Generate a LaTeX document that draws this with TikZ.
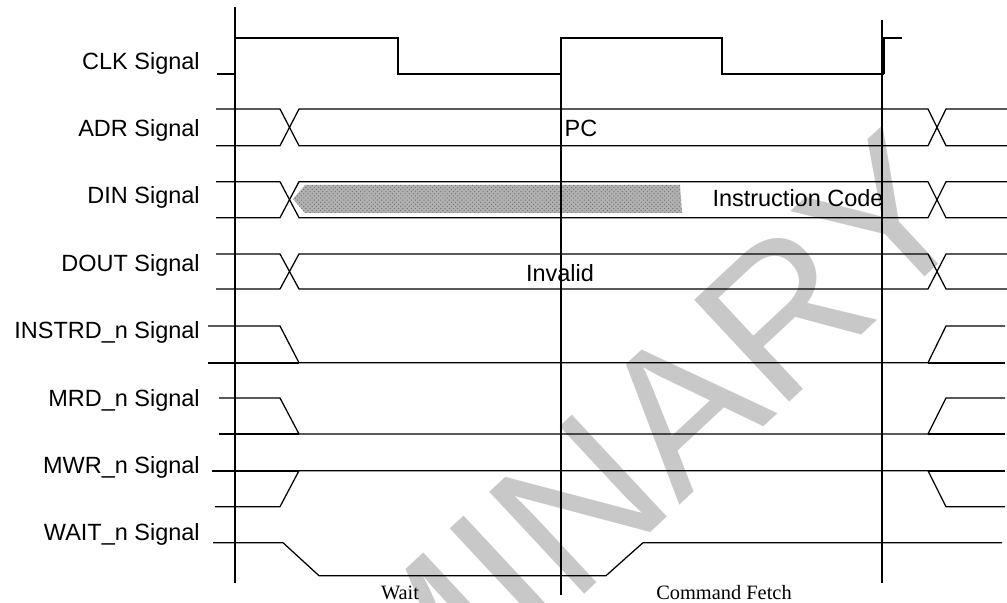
\documentclass[tikz,border=0pt]{standalone}
\usepackage{fontspec}
\setmainfont{Liberation Serif}
\setsansfont{Liberation Sans}
\usetikzlibrary{patterns}
\definecolor{wmgray}{RGB}{200,200,200}

\begin{document}
\begin{tikzpicture}
	[x=0.025cm,y=-0.025cm,
	sig/.style={line width=0.9pt},
	stub/.style={line width=1.4pt},
	clk/.style={line width=1.4pt},
	cursor/.style={line width=1.4pt},
	lbl/.style={anchor=east,inner sep=0pt,font=\sffamily\fontsize{16.7}{18}\selectfont},
	val/.style={inner sep=0pt,font=\sffamily\fontsize{16.7}{18}\selectfont},
	phase/.style={inner sep=0pt,font=\rmfamily\fontsize{14.5}{16}\selectfont}]
	\useasboundingbox (0,0) rectangle (1007,603);
	\begin{scope}
		\clip (0,0) rectangle (1007,603);
		\node[rotate=43,anchor=north east,text=wmgray,inner sep=0pt,
		font=\sffamily\fontsize{144}{144}\selectfont] (wm) at (886,122) {PRELIMINARY};
	\end{scope}
	
	\foreach \name/\txt [count=\i from 0] in {clk/CLK,adr/ADR,din/DIN,dout/DOUT,
		instrd/INSTRD\_n,mrd/MRD\_n,mwr/MWR\_n,wait/WAIT\_n}
	{
		\node[lbl] (\name) at (200,63+67.4*\i) {\txt{} Signal};
	}
	
	\fill[black!30,postaction={pattern=crosshatch dots,pattern color=black!55}]
	(293,199) -- (305,185) -- (680,185) -- (682,213) -- (305,213) -- cycle;
	
	\draw[clk] (217,73.7) -- (235,73.7) -- (235,37.7) -- (398,37.7) -- (398,73.7)
	-- (561,73.7) -- (561,37.7) -- (722,37.7) -- (722,73.7) -- (883,73.7)
	-- (883,37.7) -- (902,37.7);
	\draw[line width=2.4pt] (883.5,73.7) -- (883.5,37.7);
	
	\foreach \t/\b in {109/145.7,181.7/217.7,254/289}
	{
		\draw[sig] (216,\t) -- (280,\t) -- (299,\b) -- (928,\b) -- (946,\t) -- (1007,\t);
		\draw[sig] (216,\b) -- (280,\b) -- (299,\t) -- (928,\t) -- (946,\b) -- (1007,\b);
	}
	
	\foreach \h/\l/\s in {326/362.7/208,398/434/219}
	{
		\draw[sig] (\s,\h) -- (280,\h) -- (299,\l) -- (928,\l) -- (946,\h) -- (1005,\h);
		\draw[stub] (\s,\l) -- (299,\l);
		\draw[stub] (928,\l) -- (1005,\l);
	}
	\draw[sig] (215,506.7) -- (280,506.7) -- (299,470.7) -- (928,470.7) -- (946,506.7) -- (1005,506.7);
	\draw[stub] (212,470.7) -- (299,470.7);
	\draw[stub] (928,470.7) -- (1005,470.7);
	\draw[sig] (213,542.7) -- (283,542.7) -- (319,575.7) -- (606,575.7) -- (643,542.7) -- (1002,542.7);
	
	\draw[cursor] (235,7) -- (235,583);
	\draw[cursor] (561,37.7) -- (561,595);
	\draw[cursor] (882,20) -- (882,583);
	
	\node[val] (pc) at (581,128) {PC};
	\node[val] (code) at (798,198) {Instruction Code};
	\node[val] (inv) at (560,273) {Invalid};
	\node[phase] (waitph) at (400,593) {Wait};
	\node[phase] (fetch) at (724,593) {Command Fetch};
\end{tikzpicture}
\end{document}
